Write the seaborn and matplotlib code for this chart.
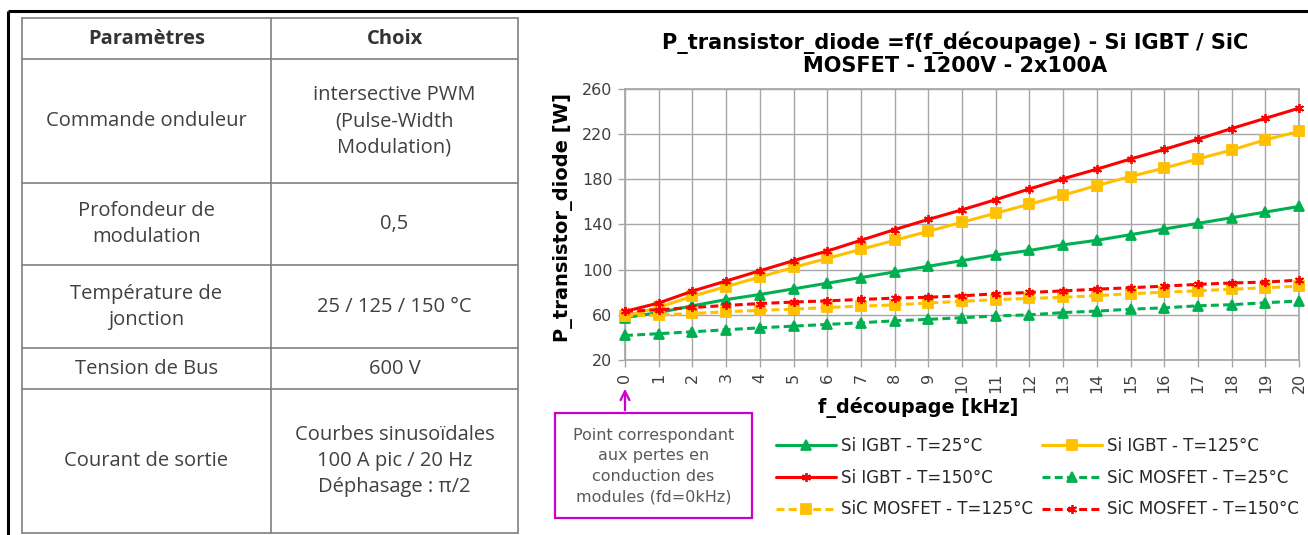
import numpy as np
import pandas as pd
import matplotlib
matplotlib.use('Agg')
import matplotlib.pyplot as plt
from matplotlib.patches import Rectangle
import seaborn as sns

sns.set_theme(style='white')
plt.rcParams['font.family'] = ['DejaVu Sans']

# --- data ---
freq = list(range(0, 21))
si_25 = [57.5, 62, 68, 73.5, 78, 83, 88, 93, 98, 103, 108, 113, 117, 122, 126, 131, 136, 141, 146, 151, 156]
si_125 = [59, 66.5, 76.5, 85, 93.5, 102, 110, 118, 126, 134, 142, 150, 158, 166, 174.5, 182.5, 190, 198, 206, 215, 222.5]
si_150 = [63, 70.5, 81, 90, 99, 108, 116.5, 126, 135.5, 144.5, 153, 162, 171.5, 180.5, 189, 198, 206.5, 215.5, 225, 234, 243]
sic_25 = [41.7, 43.3, 45, 46.8, 48.5, 50, 51.5, 53, 54.7, 56, 57.4, 59, 60, 62, 63.3, 65, 66.2, 68, 69, 70.7, 72.3]
sic_125 = [59, 59.8, 61.2, 62.7, 64, 65, 66.5, 67.7, 68.8, 70.5, 72, 73.5, 74.5, 75.5, 77, 78.8, 80, 81.3, 82.7, 84, 85.4]
sic_150 = [63, 64.5, 66.5, 68.3, 70, 71.3, 72.4, 73.6, 74.8, 75.6, 76.8, 78.7, 79.8, 81.2, 82.7, 84, 85.4, 87, 88.2, 89, 90.7]

series_names = ['Si IGBT - T=25°C', 'Si IGBT - T=125°C', 'Si IGBT - T=150°C',
                'SiC MOSFET - T=25°C', 'SiC MOSFET - T=125°C', 'SiC MOSFET - T=150°C']
series_vals = [si_25, si_125, si_150, sic_25, sic_125, sic_150]

params = ['Commande onduleur', 'Profondeur de\nmodulation', 'Température de\njonction',
          'Tension de Bus', 'Courant de sortie']
choices = ['intersective PWM\n(Pulse-Width\nModulation)', '0,5', '25 / 125 / 150 °C',
           '600 V', 'Courbes sinusoïdales\n100 A pic / 20 Hz\nDéphasage : π/2']
table_head = ['Paramètres', 'Choix']

title = 'P_transistor_diode =f(f_découpage) - Si IGBT / SiC\nMOSFET - 1200V - 2x100A'
note = 'Point correspondant\naux pertes en\nconduction des\nmodules (fd=0kHz)'

W, H = 1308, 535
fig = plt.figure(figsize=(W / 100, H / 100), dpi=100)

# --- table on the left, drawn in pixel coords ---
tab = fig.add_axes([0, 0, 1, 1])
tab.set_xlim(0, W)
tab.set_ylim(H, 0)
tab.axis('off')
tab.set_zorder(3)

tab.plot([8, W], [11, 11], color='black', lw=2.2, solid_capstyle='butt')
tab.plot([8, 8], [11, H], color='black', lw=2.2, solid_capstyle='butt')

row_edges = [18, 59, 183, 265, 348, 389, 533]
col_edges = [22, 271, 518]
for y in row_edges:
    tab.plot([col_edges[0], col_edges[-1]], [y, y], color='#7f7f7f', lw=1.2)
for x in col_edges:
    tab.plot([x, x], [row_edges[0], row_edges[-1]], color='#7f7f7f', lw=1.2)

c1 = (col_edges[0] + col_edges[1]) / 2
c2 = (col_edges[1] + col_edges[2]) / 2
tfont = ['Open Sans', 'DejaVu Sans']
for j, head in enumerate(table_head):
    tab.text([c1, c2][j], (row_edges[0] + row_edges[1]) / 2, head, ha='center', va='center',
             fontsize=14.5, fontweight='bold', color='#333333', family=tfont)
for i in range(len(params)):
    yc = (row_edges[i + 1] + row_edges[i + 2]) / 2
    tab.text(c1, yc, params[i], ha='center', va='center', fontsize=14.5,
             color='#404040', family=tfont, linespacing=1.4)
    tab.text(c2, yc, choices[i], ha='center', va='center', fontsize=14.5,
             color='#404040', family=tfont, linespacing=1.4)

# --- annotation box + arrow ---
tab.add_patch(Rectangle((555, 413), 197, 105, fill=False, ec='#CC00CC', lw=1.6))
tab.text(653.5, 466, note, ha='center', va='center', fontsize=11.5, color='#595959',
         linespacing=1.45)
tab.annotate('', xy=(625, 386), xytext=(625, 413),
             arrowprops=dict(arrowstyle='->', color='#CC00CC', lw=1.6, mutation_scale=16))

# --- chart ---
ax = fig.add_axes([625 / W, 1 - 360 / H, (1299 - 625) / W, (360 - 89) / H])
colors = ['#00B050', '#FFC000', '#FF0000', '#00B050', '#FFC000', '#FF0000']
markers = ['^', 's', (6, 2, 0), '^', 's', (6, 2, 0)]
styles = ['-', '-', '-', (0, (2.6, 1.4)), (0, (2.6, 1.4)), (0, (2.6, 1.4))]

for name, vals, c, m, ls in zip(series_names, series_vals, colors, markers, styles):
    sns.lineplot(x=freq, y=vals, ax=ax, color=c, marker=m, linestyle=ls, lw=2.2,
                 markersize=6.5, markeredgecolor=c, markeredgewidth=1.3, label=name,
                 clip_on=False, zorder=4)

ax.set_xlim(0, 20)
ax.set_ylim(20, 260)
ax.set_xticks(freq)
ax.set_yticks(range(20, 261, 40))
ax.set_xticklabels([str(f) for f in freq], rotation=90)
ax.grid(True, color='#A6A6A6', lw=1)
for s in ax.spines.values():
    s.set_color('#A6A6A6')
ax.tick_params(direction='out', length=5, color='#A6A6A6', labelcolor='#404040',
               labelsize=11.5, width=1, pad=4, bottom=True, left=True)
ax.set_xlabel('')
ax.set_ylabel('')

handles, labels = ax.get_legend_handles_labels()
ax.get_legend().remove()
order = [0, 2, 4, 1, 3, 5]
fig.legend([handles[i] for i in order], [labels[i] for i in order], ncol=2,
           loc='upper left', bbox_to_anchor=(761 / W, 1 - 422 / H), frameon=False,
           fontsize=12, handlelength=3.6, handletextpad=0.3, columnspacing=0.55,
           labelspacing=0.82, labelcolor='#262626')

fig.text(955 / W, 1 - 54 / H, title, ha='center', va='center', fontsize=15,
         fontweight='bold', color='black', linespacing=1.15)
fig.text(563 / W, 1 - 218 / H, 'P_transistor_diode [W]', rotation=90, ha='center',
         va='center', fontsize=14, fontweight='bold', color='black')
fig.text(918 / W, 1 - 408 / H, 'f_découpage [kHz]', ha='center', va='center',
         fontsize=13.8, fontweight='bold', color='black')

fig.savefig('out.png', dpi=100, facecolor='white')
